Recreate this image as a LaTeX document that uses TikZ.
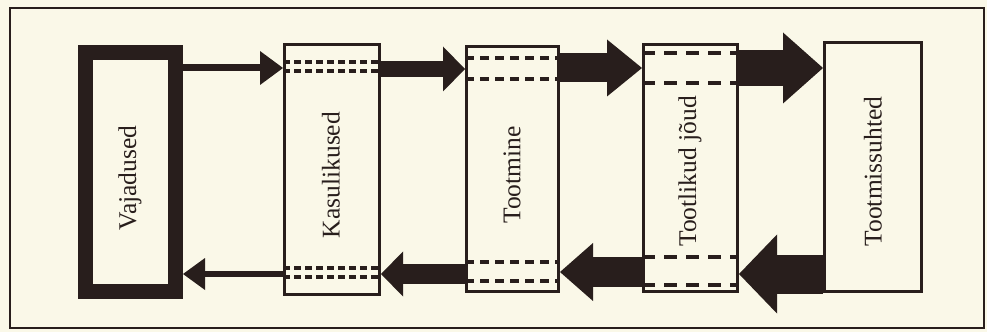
\documentclass[tikz,border=0pt]{standalone}
\usepackage{fontspec}
\setmainfont{Liberation Serif}
\usetikzlibrary{arrows.meta}
\definecolor{ink}{RGB}{40,30,28}
\definecolor{paper}{RGB}{250,248,232}
\begin{document}
\begin{tikzpicture}[x=1pt,y=1pt,
  box/.style={draw=ink, line width=3pt, inner sep=0pt},
  lbl/.style={rotate=90, text=ink, font=\fontsize{25.5}{28}\selectfont, inner sep=0pt},
  conn/.style={draw=ink, line width=#1},
  dl/.style={draw=ink, line width=3.2pt, dash pattern=#1},
]
\fill[paper] (0,0) rectangle (987,332);
\useasboundingbox (0,0) rectangle (987,332);
\draw[ink, line width=2.2pt] (10,4) rectangle (984,324);

% boxes
\node[box, line width=15pt, minimum width=90pt, minimum height=238pt] (V) at (130.5,160) {};
\node[box, minimum width=95pt, minimum height=250pt] (K) at (332,162.5) {};
\node[box, minimum width=92pt, minimum height=245pt] (T) at (512.5,163) {};
\node[box, minimum width=94pt, minimum height=247pt] (TJ) at (690.5,164) {};
\node[box, minimum width=97pt, minimum height=249pt] (TS) at (873,165) {};

% labels
\node[lbl] (Vt) at (130,154) {Vajadused};
\node[lbl] (Kt) at (331,157) {Kasulikused};
\node[lbl] (Tt) at (512,157) {Tootmine};
\node[lbl] (TJt) at (690,160.5) {Tootlikud jõud};
\node[lbl] (TSt) at (873,160.5) {Tootmissuhted};

% dashed lines inside boxes
\draw[dl={on 7pt off 4pt}] (K.west |- 0,270) -- (K.east |- 0,270);
\draw[dl={on 7pt off 4pt}] (K.west |- 0,261) -- (K.east |- 0,261);
\draw[dl={on 7pt off 4pt}] (K.west |- 0,64) -- (K.east |- 0,64);
\draw[dl={on 7pt off 4pt}] (K.west |- 0,55) -- (K.east |- 0,55);
\draw[dl={on 9pt off 6pt}] (T.west |- 0,274) -- (T.east |- 0,274);
\draw[dl={on 9pt off 6pt}] (T.west |- 0,253) -- (T.east |- 0,253);
\draw[dl={on 9pt off 6pt}] (T.west |- 0,70) -- (T.east |- 0,70);
\draw[dl={on 9pt off 6pt}] (T.west |- 0,51) -- (T.east |- 0,51);
\draw[dl={on 13pt off 9pt}] (TJ.west |- 0,279) -- (TJ.east |- 0,279);
\draw[dl={on 13pt off 9pt}] (TJ.west |- 0,249) -- (TJ.east |- 0,249);
\draw[dl={on 13pt off 9pt}] (TJ.west |- 0,75) -- (TJ.east |- 0,75);
\draw[dl={on 13pt off 9pt}] (TJ.west |- 0,47) -- (TJ.east |- 0,47);

% forward arrows (top)
\draw[conn=7pt, -{Triangle[length=23pt,width=34pt,line width=0pt]}] (V.east |- 0,264) -- (K.west |- 0,264);
\draw[conn=16pt, -{Triangle[length=22pt,width=45pt,line width=0pt]}] (K.east |- 0,263) -- (T.west |- 0,263);
\draw[conn=29pt, -{Triangle[length=35pt,width=57pt,line width=0pt]}] (T.east |- 0,264) -- (TJ.west |- 0,264);
\draw[conn=36pt, -{Triangle[length=40pt,width=71pt,line width=0pt]}] (TJ.east |- 0,264) -- (TS.west |- 0,264);

% backward arrows (bottom)
\draw[conn=6pt, -{Triangle[length=22pt,width=32pt,line width=0pt]}] (K.west |- 0,58) -- (V.east |- 0,58);
\draw[conn=20pt, -{Triangle[length=22pt,width=45pt,line width=0pt]}] (T.west |- 0,58) -- (K.east |- 0,58);
\draw[conn=30pt, -{Triangle[length=33pt,width=58pt,line width=0pt]}] (TJ.west |- 0,60) -- (T.east |- 0,60);
\draw[conn=39pt, -{Triangle[length=38pt,width=79pt,line width=0pt]}] (TS.west |- 0,58) -- (TJ.east |- 0,58);
\end{tikzpicture}
\end{document}
